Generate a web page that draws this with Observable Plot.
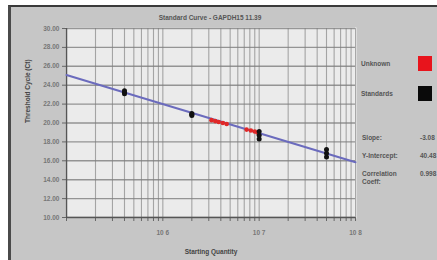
<!DOCTYPE html>
<html>
<head>
<meta charset="utf-8">
<script src="https://cdn.jsdelivr.net/npm/d3@7"></script>
<script src="https://cdn.jsdelivr.net/npm/@observablehq/plot@0.6"></script>
<style>
  html, body { margin: 0; padding: 0; background: #fff; }
  #wrap { position: relative; width: 437px; height: 260px; overflow: hidden; background: #fff;
          font-family: "Liberation Sans", Arial, sans-serif; }
  #panel { position: absolute; left: 8px; top: 5px; width: 429px; height: 255px;
           background: #c6c6c6; border-left: 3px solid #4a4a4a; border-top: 2px solid #3a3a3a; box-sizing: border-box; }
  #chart { position: absolute; left: 0; top: 0; }
  .t { position: absolute; font-weight: bold; font-size: 6.5px; color: #555; white-space: nowrap; }
  .sw { position: absolute; width: 14px; height: 15px; }
</style>
</head>
<body>
<div id="wrap">
  <div id="panel"></div>
  <div id="chart"></div>
  <div class="t" style="left:130px; top:14px; width:160px; text-align:center; font-size:6.5px;" id="title"></div>
  <div class="t" style="left:361px; top:60px;" id="lg0"></div>
  <div class="sw" style="left:418px; top:56px; background:#e8141c;"></div>
  <div class="t" style="left:361px; top:90px;" id="lg1"></div>
  <div class="sw" style="left:418px; top:86px; background:#0a0a0a;"></div>
  <div class="t" style="left:362px; top:134px;" id="s0"></div>
  <div class="t" style="left:420px; top:134px;" id="v0"></div>
  <div class="t" style="left:362px; top:152px;" id="s1"></div>
  <div class="t" style="left:420px; top:152px;" id="v1"></div>
  <div class="t" style="left:362px; top:170px; line-height:8px;" id="s2"></div>
  <div class="t" style="left:420px; top:170px;" id="v2"></div>
</div>
<script>
// ---- data ----
const titleText = "Standard Curve - GAPDH15 11.39";
const xLabel = "Starting Quantity";
const yLabel = "Threshold Cycle (Ct)";
const legendNames = ["Unknown", "Standards"];
const statNames = ["Slope:", "Y-Intercept:", "Correlation<br>Coeff:"];
const statValues = ["-3.08", "40.48", "0.998"];

const stdQty = [4e5, 4e5, 4e5, 2e6, 2e6, 2e6, 1e7, 1e7, 1e7, 5e7, 5e7, 5e7];
const stdCt  = [23.1, 23.25, 23.4, 20.8, 20.9, 21.0, 18.3, 18.7, 19.1, 16.4, 16.8, 17.2];

const unkQty = [3.2e6, 3.5e6, 3.8e6, 4.2e6, 4.6e6, 7.4e6, 8.2e6, 9.0e6, 9.6e6];
const unkCt  = [20.3, 20.2, 20.1, 20.0, 19.9, 19.3, 19.2, 19.1, 19.0];

const fitQty = [1e5, 1e8];
const fitCt  = [25.08, 15.84];

const yTicks = [10, 12, 14, 16, 18, 20, 22, 24, 26, 28, 30];
const xMajor = [1e6, 1e7, 1e8];
const xMajorLabels = ["10 6", "10 7", "10 8"];

// ---- build ----
const stds = stdQty.map((q, i) => ({q, ct: stdCt[i]}));
const unks = unkQty.map((q, i) => ({q, ct: unkCt[i]}));
const fit = fitQty.map((q, i) => ({q, ct: fitCt[i]}));
const xAll = [];
for (let e = 5; e < 8; e++) for (let m = 1; m <= 9; m++) xAll.push(m * Math.pow(10, e));
xAll.push(1e8);

const chart = Plot.plot({
  width: 437, height: 260,
  marginLeft: 66, marginRight: 82, marginTop: 28, marginBottom: 43,
  style: {background: "transparent", fontFamily: "Liberation Sans, Arial, sans-serif"},
  x: {type: "log", domain: [1e5, 1e8], axis: null},
  y: {domain: [10, 30], axis: null},
  marks: [
    Plot.frame({fill: "#ebebeb", stroke: "#f6f6f6", strokeWidth: 2}),
    Plot.gridX(xAll, {stroke: "#8c8c8c", strokeOpacity: 0.75, strokeWidth: 1.1}),
    Plot.gridY(yTicks, {stroke: "#7e7e7e", strokeOpacity: 0.8, strokeWidth: 1.4}),
    Plot.axisY(yTicks, {tickFormat: d => d.toFixed(2), tickSize: 4, tickPadding: 3,
      fontSize: 6.5, fontWeight: "bold", fill: "#777", stroke: "#666", label: null}),
    Plot.axisX(xAll, {tickSize: 4, tickFormat: () => "", stroke: "#666", label: null}),
    Plot.text(xMajor, {x: d => d, frameAnchor: "bottom", dy: 17,
      text: (d, i) => xMajorLabels[i], fontSize: 6.5, fontWeight: "bold", fill: "#777"}),
    Plot.ruleX([1e5], {stroke: "#555", strokeWidth: 1.5}),
    Plot.ruleY([10], {stroke: "#555", strokeWidth: 1.5}),
    Plot.line(fit, {x: "q", y: "ct", stroke: "#6b6bbd", strokeWidth: 2}),
    Plot.dot(unks, {x: "q", y: "ct", r: 2.3, fill: "#e02828", stroke: "none"}),
    Plot.dot(stds, {x: "q", y: "ct", r: 2.5, fill: "#111", stroke: "none"}),
    Plot.text([xLabel], {frameAnchor: "bottom", dy: 36, fontSize: 6.5, fontWeight: "bold", fill: "#444"}),
    Plot.text([yLabel], {frameAnchor: "left", dx: -39, rotate: -90, fontSize: 6.5, fontWeight: "bold", fill: "#444"})
  ]
});
document.getElementById("chart").appendChild(chart);
document.getElementById("title").textContent = titleText;
document.getElementById("lg0").textContent = legendNames[0];
document.getElementById("lg1").textContent = legendNames[1];
["s0","s1","s2"].forEach((id, i) => document.getElementById(id).innerHTML = statNames[i]);
["v0","v1","v2"].forEach((id, i) => document.getElementById(id).textContent = statValues[i]);
</script>
</body>
</html>
